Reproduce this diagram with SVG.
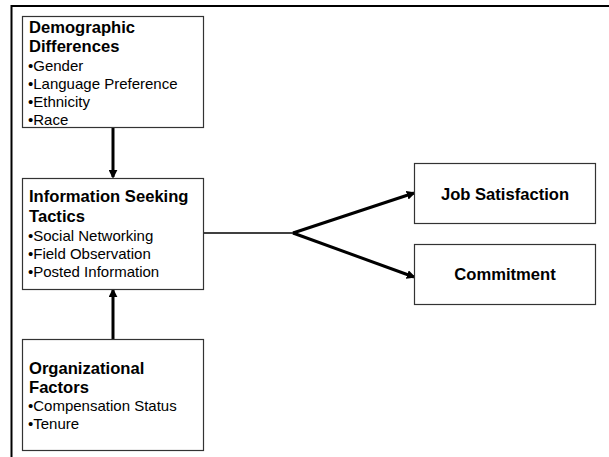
<svg xmlns="http://www.w3.org/2000/svg" width="609" height="457" viewBox="0 0 609 457">
<style>
.box{fill:#fff;stroke:#333;stroke-width:1.2}
.t{font-family:"Liberation Sans",Arial,sans-serif;font-weight:bold;font-size:16.6px;fill:#000}
.b{font-family:"Liberation Sans",Arial,sans-serif;font-size:15px;fill:#000}
.thick{stroke:#000;stroke-width:3;fill:none}
</style>
<defs>
<marker id="ah" markerWidth="3" markerHeight="3" refX="2.4" refY="1.5" orient="auto" markerUnits="strokeWidth">
<path d="M0,0 L3,1.5 L0,3 Z" fill="#000"/>
</marker>
</defs>
<rect width="609" height="457" fill="#fff"/>
<g id="frame">
<path d="M11.5,457 V6 H609" fill="none" stroke="#000" stroke-width="2"/>
</g>
<g id="connectors">
<line class="thick" x1="113" y1="128" x2="113" y2="177" marker-end="url(#ah)"/>
<line class="thick" x1="113" y1="339" x2="113" y2="290" marker-end="url(#ah)"/>
<line x1="203" y1="233" x2="293" y2="233" stroke="#000" stroke-width="1.5"/>
<line class="thick" x1="293" y1="233" x2="414" y2="193" marker-end="url(#ah)"/>
<line class="thick" x1="293" y1="233" x2="414" y2="277" marker-end="url(#ah)"/>
</g>
<g id="demographic">
<rect class="box" x="22.5" y="16.5" width="181" height="111"/>
<text class="t" x="29" y="33">Demographic</text>
<text class="t" x="29" y="52">Differences</text>
<text class="b" x="28" y="71">•Gender</text>
<text class="b" x="28" y="89">•Language Preference</text>
<text class="b" x="28" y="107">•Ethnicity</text>
<text class="b" x="28" y="125">•Race</text>
</g>
<g id="info">
<rect class="box" x="22.5" y="178.5" width="181" height="111"/>
<text class="t" x="29" y="202">Information Seeking</text>
<text class="t" x="29" y="222">Tactics</text>
<text class="b" x="28" y="241">•Social Networking</text>
<text class="b" x="28" y="259">•Field Observation</text>
<text class="b" x="28" y="277">•Posted Information</text>
</g>
<g id="organizational">
<rect class="box" x="22.5" y="339.5" width="181" height="111"/>
<text class="t" x="29" y="374">Organizational</text>
<text class="t" x="29" y="393">Factors</text>
<text class="b" x="28" y="411">•Compensation Status</text>
<text class="b" x="28" y="429">•Tenure</text>
</g>
<g id="jobsat">
<rect class="box" x="414.5" y="163.5" width="181" height="60"/>
<text class="t" x="505" y="200" text-anchor="middle">Job Satisfaction</text>
</g>
<g id="commitment">
<rect class="box" x="414.5" y="244.5" width="181" height="60"/>
<text class="t" x="505" y="280" text-anchor="middle">Commitment</text>
</g>
</svg>
